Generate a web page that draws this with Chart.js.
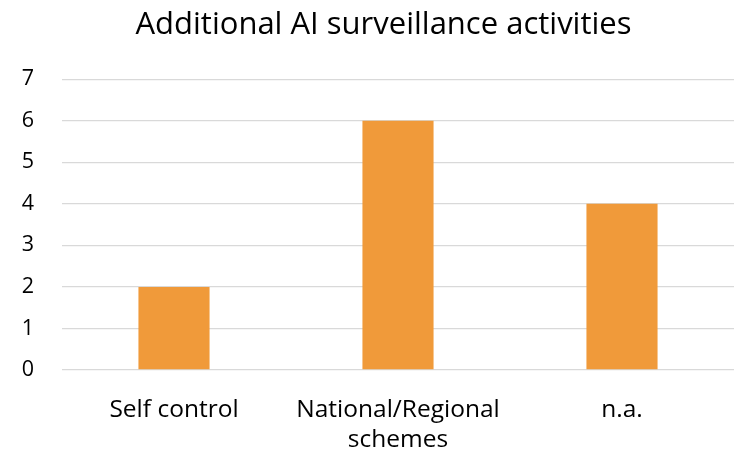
<!DOCTYPE html>
<html>
<head>
<meta charset="utf-8">
<script src="https://cdn.jsdelivr.net/npm/chart.js@4"></script>
<style>
  html, body { margin: 0; padding: 0; background: #fff; }
  #wrap { width: 734px; height: 455px; }
</style>
</head>
<body>
<div id="wrap"><canvas id="chart"></canvas></div>
<script>
const categories = ["Self control", ["National/Regional", "schemes"], "n.a."];
const values = [2, 6, 4];
const yTicks = [0, 1, 2, 3, 4, 5, 6, 7];

const fontFamily = "'Open Sans', sans-serif";

// the title sits a little right of the canvas middle, as in the original
const shiftTitle = {
  id: "shiftTitle",
  afterLayout(chart) {
    if (chart.titleBlock) chart.titleBlock.left = 33;
  }
};

new Chart(document.getElementById("chart"), {
  type: "bar",
  data: {
    labels: categories,
    datasets: [{
      label: "Additional AI surveillance activities",
      data: values,
      backgroundColor: "#f09a3a",
      barPercentage: 0.635,
      categoryPercentage: 0.5
    }]
  },
  plugins: [shiftTitle],
  options: {
    responsive: true,
    maintainAspectRatio: false,
    animation: false,
    layout: { padding: 0 },
    plugins: {
      legend: { display: false },
      tooltip: { enabled: false },
      title: {
        display: true,
        text: "Additional AI surveillance activities",
        color: "#000",
        font: { family: fontFamily, size: 31, weight: "normal", lineHeight: 1.2 },
        padding: { top: 7, bottom: 35 }
      }
    },
    scales: {
      x: {
        grid: { display: false, drawTicks: false },
        border: { display: false },
        ticks: {
          color: "#000",
          font: { family: fontFamily, size: 24.5, lineHeight: 1.23 },
          padding: 25,
          maxRotation: 0,
          autoSkip: false
        },
        afterFit: axis => {
          axis.height = 85;
          axis.paddingLeft = 0;
          axis.paddingRight = 0;
        }
      },
      y: {
        min: 0,
        max: 7,
        afterBuildTicks: axis => { axis.ticks = yTicks.map(v => ({ value: v })); },
        grid: { color: "#d9d9d9", lineWidth: 1.3, drawTicks: false },
        border: { display: false },
        ticks: {
          color: "#000",
          font: { family: fontFamily, size: 21.5 },
          padding: 28
        },
        afterFit: axis => {
          axis.width = 62;
          axis.paddingTop = 0;
          axis.paddingBottom = 0;
        }
      }
    }
  }
});
</script>
</body>
</html>
